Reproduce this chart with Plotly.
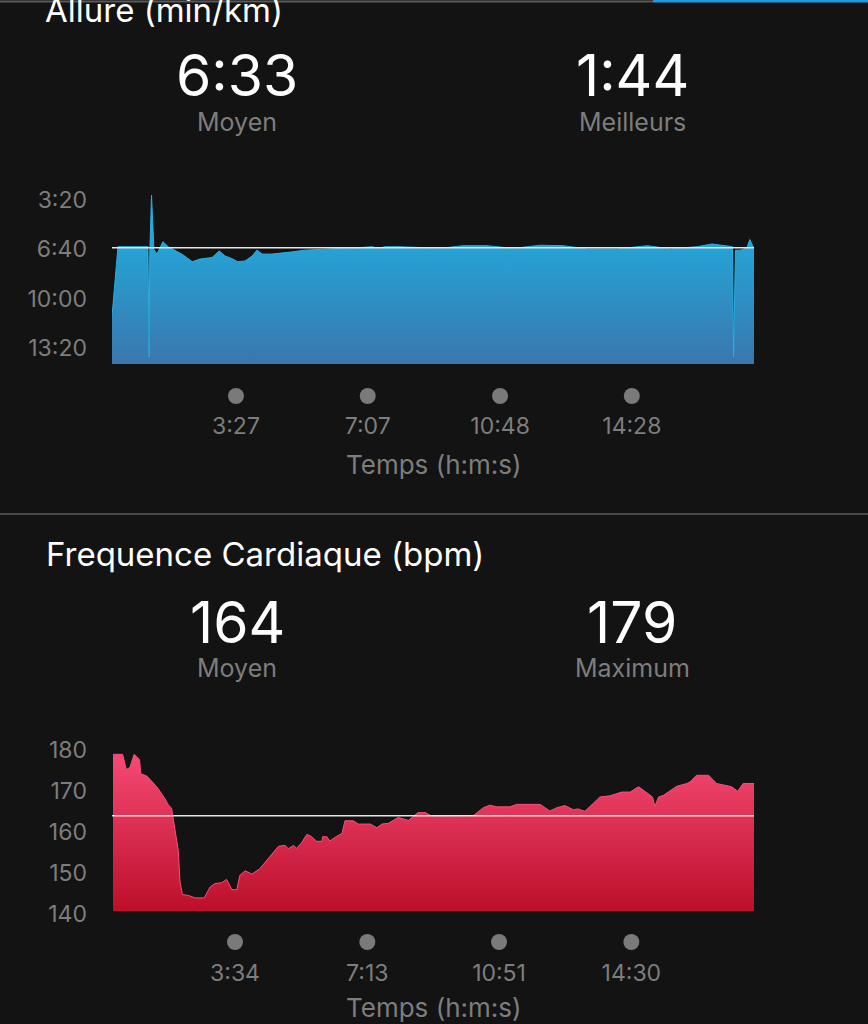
import plotly.graph_objects as go

# ---------------- DATA ----------------
# Pace (Allure): elapsed time in seconds, pace in seconds per km
pace_t = [0, 10, 60, 62, 63, 66, 70, 75, 85, 94, 119, 134, 147, 167, 179, 189, 200, 210, 222,
          234, 242, 251, 267, 284, 301, 322, 347, 381, 414, 434, 444, 456, 481, 515, 548, 586,
          626, 670, 715, 753, 793, 844, 894, 932, 977, 1002, 1027, 1036, 1038, 1041, 1049,
          1060, 1065, 1072]
pace_v = [673, 389, 389, 836, 420, 180, 400, 419, 369, 389, 423, 450, 439, 433, 406, 427, 437,
          450, 447, 427, 403, 419, 419, 416, 410, 403, 399, 396, 393, 389, 396, 389, 389, 393,
          396, 385, 385, 396, 383, 385, 398, 398, 385, 398, 389, 378, 385, 389, 836, 403, 403,
          395, 360, 396]
pace_avg = 393          # 6:33 min/km
pace_base = 865
pace_ticks = [200, 400, 600, 800]
pace_ticktext = ["3:20", "6:40", "10:00", "13:20"]
pace_xticks = [207, 427, 648, 868]
pace_xticktext = ["3:27", "7:07", "10:48", "14:28"]

# Heart rate: elapsed time in seconds, bpm
hr_t = [12, 28, 34, 40, 47, 56, 58, 68, 79, 87, 98, 104, 109, 115, 120, 123, 127, 137, 148,
        163, 173, 181, 192, 200, 209, 217, 222, 231, 242, 255, 272, 286, 297, 302, 311, 316,
        324, 333, 341, 349, 358, 359, 366, 371, 382, 391, 396, 410, 418, 438, 449, 457, 468,
        484, 501, 517, 529, 540,
        609, 625, 636, 647, 669, 680, 719, 735, 747, 760, 774, 782, 793, 818, 835, 854, 868,
        882, 896, 905, 909, 915, 923, 931, 945, 962, 967, 978, 998, 1011, 1022, 1036, 1046,
        1055, 1073]
hr_v = [179.0, 179.0, 175.3, 175.8, 179.0, 177.7, 174.3, 173.7, 172.0, 170.6, 168.2, 166.6,
        165.9, 160.5, 155.6, 147.9, 144.8, 144.6, 144.0, 144.0, 146.7, 147.5, 147.7, 148.5,
        146.0, 146.0, 149.5, 150.6, 149.8, 151.1, 154.0, 156.6, 156.8, 156.0, 156.8, 156.1,
        157.4, 159.5, 158.9, 157.8, 157.8, 158.9, 158.9, 157.9, 159.0, 159.7, 162.8, 162.8,
        162.0, 162.0, 161.1, 162.0, 162.2, 163.6, 162.9, 164.8, 164.8, 163.9,
        164.1, 166.0, 166.6, 166.2, 166.2, 166.8, 166.8, 165.2, 166.0, 166.5, 165.5, 165.7,
        165.1, 168.6, 168.9, 169.8, 169.8, 171.1, 169.6, 168.6, 166.3, 168.6, 169.0, 169.8,
        171.2, 171.9, 172.3, 173.9, 173.9, 171.9, 171.5, 171.1, 170.0, 171.9, 171.9]
hr_avg = 164
hr_base = 140.8
hr_ticks = [140, 150, 160, 170, 180]
hr_xticks = [214, 433, 651, 870]
hr_xticktext = ["3:34", "7:13", "10:51", "14:30"]
# ---------------------------------------

W, H = 868, 1024
BG = "#131313"
GREY = "#7d7d7d"
WHITE = "#ffffff"
FONT = "Inter"


def py(p):
    return 1 - p / H


fig = go.Figure()

# Pace baseline + gradient fill
fig.add_trace(go.Scatter(x=pace_t, y=[pace_base] * len(pace_t), mode="lines",
                         line=dict(width=0), hoverinfo="skip", showlegend=False,
                         xaxis="x", yaxis="y"))
fig.add_trace(go.Scatter(x=pace_t, y=pace_v, mode="lines", line=dict(width=1, color="#27ade0"),
                         fill="tonexty",
                         fillgradient=dict(type="vertical",
                                           colorscale=[[0, "#3a77ad"], [1, "#1fb0e2"]],
                                           start=pace_base, stop=240),
                         showlegend=False, xaxis="x", yaxis="y"))

# HR baseline + gradient fill
fig.add_trace(go.Scatter(x=hr_t, y=[hr_base] * len(hr_t), mode="lines",
                         line=dict(width=0), hoverinfo="skip", showlegend=False,
                         xaxis="x2", yaxis="y2"))
fig.add_trace(go.Scatter(x=hr_t, y=hr_v, mode="lines", line=dict(width=1, color="#f5517a"),
                         fill="tonexty",
                         fillgradient=dict(type="vertical",
                                           colorscale=[[0, "#bd0f2b"], [1, "#f54a74"]],
                                           start=hr_base, stop=179),
                         showlegend=False, xaxis="x2", yaxis="y2"))

# tick dot rows
fig.add_trace(go.Scatter(x=pace_xticks, y=[0.5] * len(pace_xticks), mode="markers",
                         marker=dict(size=16, color="#7a7a7a"), showlegend=False,
                         xaxis="x", yaxis="y3", cliponaxis=False))
fig.add_trace(go.Scatter(x=hr_xticks, y=[0.5] * len(hr_xticks), mode="markers",
                         marker=dict(size=16, color="#7a7a7a"), showlegend=False,
                         xaxis="x2", yaxis="y4", cliponaxis=False))

xdom = [112 / W, 754 / W]
pace_range_x = [0, 1072]
hr_range_x = [10.4, 1073]

TICKSIZE = 23
common_x = dict(showgrid=False, zeroline=False, showline=False, ticks="", automargin=False,
                tickfont=dict(family=FONT, size=TICKSIZE, color=GREY), fixedrange=True)
common_y = dict(showgrid=False, zeroline=False, showline=False, ticks="", automargin=False,
                tickfont=dict(family=FONT, size=TICKSIZE, color=GREY), fixedrange=True,
                ticklabelstandoff=24)

fig.update_layout(
    width=W, height=H,
    margin=dict(l=0, r=0, t=0, b=0, pad=0),
    paper_bgcolor=BG, plot_bgcolor=BG,
    title=dict(text="Allure (min/km)", x=45 / W, xanchor="left", xref="paper",
               y=py(10), yref="container", yanchor="middle", automargin=False,
               font=dict(family=FONT, size=33, color=WHITE)),
    xaxis=dict(domain=xdom, range=pace_range_x, anchor="y",
               tickvals=pace_xticks, ticktext=pace_xticktext, ticklabelstandoff=46,
               **common_x),
    yaxis=dict(domain=[py(364), py(190)], range=[pace_base, 159], anchor="x",
               tickvals=pace_ticks, ticktext=pace_ticktext, **common_y),
    xaxis2=dict(domain=xdom, range=hr_range_x, anchor="y2",
                tickvals=hr_xticks, ticktext=hr_xticktext, ticklabelstandoff=43,
                **common_x),
    yaxis2=dict(domain=[py(914.3), py(740)], range=[140, 182.5], anchor="x2",
                tickvals=hr_ticks, **common_y),
    yaxis3=dict(domain=[py(406), py(386)], range=[0, 1], anchor="x", visible=False,
                fixedrange=True),
    yaxis4=dict(domain=[py(952), py(932)], range=[0, 1], anchor="x2", visible=False,
                fixedrange=True),
    showlegend=False,
)

# average lines
fig.add_shape(type="line", xref="x domain", yref="y", x0=0, x1=1, y0=pace_avg, y1=pace_avg,
              line=dict(color="#e6e6e6", width=1.5))
fig.add_shape(type="line", xref="x2 domain", yref="y2", x0=0, x1=1, y0=hr_avg, y1=hr_avg,
              line=dict(color="#e6e6e6", width=1.5))

# separators
fig.add_shape(type="line", xref="paper", yref="paper", x0=0, x1=653 / W, y0=py(1.5), y1=py(1.5),
              line=dict(color="#5a5a5a", width=2))
fig.add_shape(type="line", xref="paper", yref="paper", x0=653 / W, x1=1, y0=py(1), y1=py(1),
              line=dict(color="#1e9be0", width=3))
fig.add_shape(type="line", xref="paper", yref="paper", x0=0, x1=1, y0=py(514), y1=py(514),
              line=dict(color="#4a4a4a", width=2))


def txt(s, x, y, size, color, xanchor="center", yanchor="middle"):
    fig.add_annotation(text=s, x=x / W, y=py(y), xref="paper", yref="paper",
                       xanchor=xanchor, yanchor=yanchor, showarrow=False, borderpad=0,
                       font=dict(family=FONT, size=size, color=color))


txt("6:33", 237, 75, 57, WHITE)
txt("Moyen", 237, 122, 25, GREY)
txt("1:44", 632, 75, 57, WHITE)
txt("Meilleurs", 632, 122, 25, GREY)
txt("Temps (h:m:s)", 433, 464, 26, GREY)

txt("Frequence Cardiaque (bpm)", 45, 554, 33, WHITE, "left")
txt("164", 237, 622, 57, WHITE)
txt("Moyen", 237, 668, 25, GREY)
txt("179", 632, 622, 57, WHITE)
txt("Maximum", 632, 668, 25, GREY)
txt("Temps (h:m:s)", 433, 1024, 26, GREY, "center", "bottom")

fig.write_html("out.html",
               config={"displayModeBar": False},
               post_script="document.body.style.margin='0';"
                           "document.body.style.overflow='hidden';"
                           "document.body.style.background='#131313';")
